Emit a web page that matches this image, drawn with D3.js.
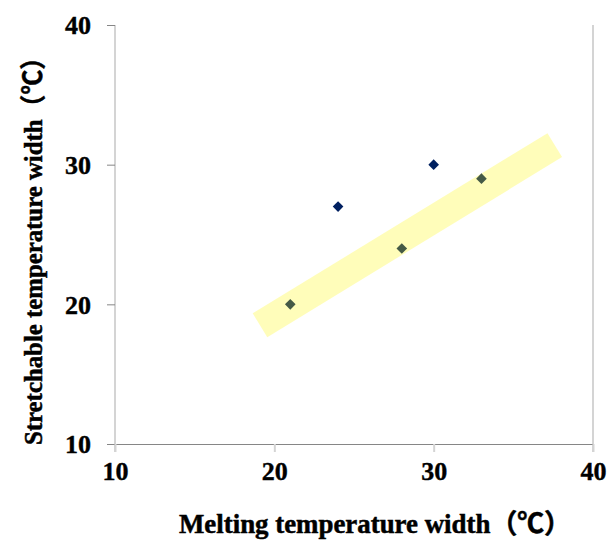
<!DOCTYPE html>
<html>
<head>
<meta charset="utf-8">
<script src="https://cdn.jsdelivr.net/npm/d3@7"></script>
<style>
  body { margin: 0; background: #fff; }
  text { font-family: "Liberation Serif", "Times New Roman", "Noto Sans CJK JP", serif; font-weight: bold; }
</style>
</head>
<body>
<div id="chart"></div>
<script>
// data
var meltWidth = [24, 30, 21, 28, 33]
var stretchWidth = [27, 30, 20, 24, 29]
var xTicks = [10, 20, 30, 40]
var yTicks = [10, 20, 30, 40]
// highlighted trend band, two ends in data units
var bandX = [19.1, 37.6]
var bandY = [18.5, 31.4]

var xTitle = 'Melting temperature width（℃）'
var yTitle = 'Stretchable temperature width（℃）'

var width = 616
var height = 542

var x = d3.scaleLinear().domain([10, 40]).range([115, 593])
var y = d3.scaleLinear().domain([10, 40]).range([444, 25])

var svg = d3.select('#chart').append('svg')
    .attr('width', width)
    .attr('height', height)
    .style('display', 'block')

// right border of plot area
svg.append('line')
    .attr('x1', x(40)).attr('x2', x(40))
    .attr('y1', y(40)).attr('y2', y(10) + 8)
    .attr('stroke', '#d4d4d4')
    .attr('stroke-width', 2)

// y axis
var yAxis = svg.append('g')
    .attr('transform', 'translate(' + x(10) + ',0)')
    .call(d3.axisLeft(y).tickValues(yTicks).tickSize(8).tickSizeOuter(0).tickFormat(d3.format('d')))
yAxis.select('.domain')
    .attr('stroke', '#d4d4d4')
    .attr('stroke-width', 2)
    .attr('d', 'M0,' + y(40) + 'V' + (y(10) + 8))
yAxis.selectAll('.tick line').attr('stroke', '#868686')
yAxis.selectAll('.tick text')
    .attr('x', -24)
    .attr('dy', '0.34em')
    .attr('fill', '#000')
    .attr('stroke', '#000')
    .attr('stroke-width', 0.4)
    .attr('font-size', 26)

// x axis
var xAxis = svg.append('g')
    .attr('transform', 'translate(0,' + y(10) + ')')
    .call(d3.axisBottom(x).tickValues(xTicks).tickSize(8).tickSizeOuter(0).tickFormat(d3.format('d')))
xAxis.select('.domain').attr('stroke', '#868686')
xAxis.selectAll('.tick line')
    .attr('stroke', '#d4d4d4')
    .attr('stroke-width', 2)
xAxis.selectAll('.tick text')
    .attr('y', 27)
    .attr('dy', '0.34em')
    .attr('fill', '#000')
    .attr('stroke', '#000')
    .attr('stroke-width', 0.4)
    .attr('font-size', 26)

// points
var points = meltWidth.map(function (d, i) {
  return {x: d, y: stretchWidth[i]}
})

svg.selectAll('.pt')
    .data(points)
  .enter().append('path')
    .attr('class', 'pt')
    .attr('d', d3.symbol().type(d3.symbolDiamond2).size(72))
    .attr('transform', d => `translate(${x(d.x)},${y(d.y)})`)
    .attr('fill', '#002060')

// yellow band on top, see-through
svg.append('line')
    .attr('x1', x(bandX[0])).attr('y1', y(bandY[0]))
    .attr('x2', x(bandX[1])).attr('y2', y(bandY[1]))
    .attr('stroke', 'rgb(255,246,0)')
    .attr('stroke-opacity', 0.27)
    .attr('stroke-width', 28)

// titles
svg.append('text')
    .attr('x', 375)
    .attr('y', 533)
    .attr('text-anchor', 'middle')
    .attr('textLength', 392)
    .attr('lengthAdjust', 'spacingAndGlyphs')
    .attr('stroke', '#000')
    .attr('stroke-width', 0.5)
    .style('font-size', '27px')
    .text(xTitle)

svg.append('text')
    .attr('transform', 'translate(42,245) rotate(-90)')
    .attr('text-anchor', 'middle')
    .attr('textLength', 400)
    .attr('lengthAdjust', 'spacingAndGlyphs')
    .attr('stroke', '#000')
    .attr('stroke-width', 0.5)
    .style('font-size', '26px')
    .text(yTitle)
</script>
</body>
</html>
